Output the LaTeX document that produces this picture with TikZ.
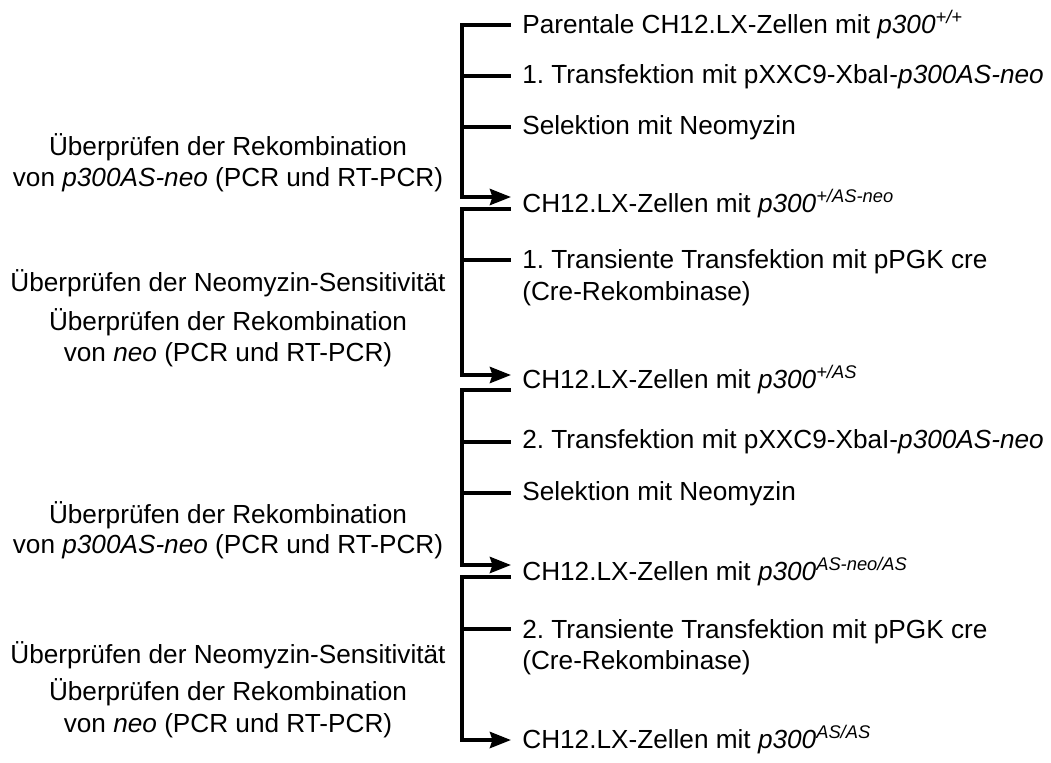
\documentclass[tikz,border=0pt]{standalone}
\usepackage{fontspec}
\setmainfont{Liberation Sans}
\usetikzlibrary{arrows.meta}
\frenchspacing

% superscripted genotype
\newcommand{\geno}[1]{\textit{p300}\textsuperscript{\itshape #1}}

\begin{document}
\begin{tikzpicture}[x=0.02cm, y=-0.02cm,
        bar/.style={line width=0.8mm, line join=miter},
        go/.style={bar, -{Stealth[length=4.2mm, width=3.2mm, inset=0.5mm]}},
        txt/.style={anchor=base west, inner sep=0pt, font=\fontsize{14.9}{17.8}\selectfont},
        chk/.style={anchor=base, inner sep=0pt, font=\fontsize{14.9}{17.8}\selectfont}]
    \useasboundingbox (0,0) rectangle (1051,762);

    % brackets: top end, corner, arrow end
    \coordinate (s1) at (511,25);  \coordinate (k1) at (462,25);  \coordinate (e1) at (511,197);
    \coordinate (s2) at (511,209); \coordinate (k2) at (462,209); \coordinate (e2) at (511,375);
    \coordinate (s3) at (511,390); \coordinate (k3) at (462,390); \coordinate (e3) at (511,565);
    \coordinate (s4) at (511,577); \coordinate (k4) at (462,577); \coordinate (e4) at (511,740);
    \foreach \i in {1,...,4}
        \draw[go] (s\i) -- (k\i) |- (e\i);
    % side steps
    \foreach \y in {76,127,260,442,493,629}
        \draw[bar] (462,\y) -- (511,\y);

    % right column
    \node[txt] (r1) at (522,33) {Parentale CH12.LX-Zellen mit \geno{+/+}};
    \node[txt] (r2) at (522,83) {1. Transfektion mit pXXC9-XbaI-\textit{p300AS-neo}};
    \node[txt] (r3) at (522,134) {Selektion mit Neomyzin};
    \node[txt] (r4) at (522,212) {CH12.LX-Zellen mit \geno{+/AS-neo}};
    \node[txt] (r5) at (522,268) {1. Transiente Transfektion mit pPGK cre};
    \node[txt] (r6) at (522,300) {(Cre-Rekombinase)};
    \node[txt] (r7) at (522,388) {CH12.LX-Zellen mit \geno{+/AS}};
    \node[txt] (r8) at (522,448) {2. Transfektion mit pXXC9-XbaI-\textit{p300AS-neo}};
    \node[txt] (r9) at (522,500) {Selektion mit Neomyzin};
    \node[txt] (r10) at (522,580) {CH12.LX-Zellen mit \geno{AS-neo/AS}};
    \node[txt] (r11) at (522,638) {2. Transiente Transfektion mit pPGK cre};
    \node[txt] (r12) at (522,669) {(Cre-Rekombinase)};
    \node[txt] (r13) at (522,748) {CH12.LX-Zellen mit \geno{AS/AS}};

    % left column, checks
    \node[chk] (l1) at (228,155) {Überprüfen der Rekombination};
    \node[chk] (l2) at (228,186) {von \textit{p300AS-neo} (PCR und RT-PCR)};
    \node[chk] (l3) at (228,291) {Überprüfen der Neomyzin-Sensitivität};
    \node[chk] (l4) at (228,330) {Überprüfen der Rekombination};
    \node[chk] (l5) at (228,361) {von \textit{neo} (PCR und RT-PCR)};
    \node[chk] (l6) at (228,523) {Überprüfen der Rekombination};
    \node[chk] (l7) at (228,553) {von \textit{p300AS-neo} (PCR und RT-PCR)};
    \node[chk] (l8) at (228,663) {Überprüfen der Neomyzin-Sensitivität};
    \node[chk] (l9) at (228,700) {Überprüfen der Rekombination};
    \node[chk] (l10) at (228,732) {von \textit{neo} (PCR und RT-PCR)};
\end{tikzpicture}
\end{document}
